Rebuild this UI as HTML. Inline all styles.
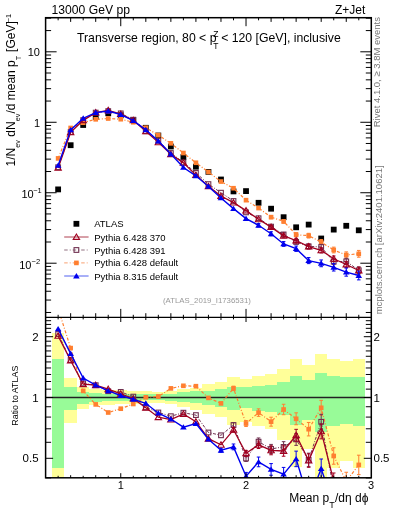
<!DOCTYPE html><html><head><meta charset="utf-8"><style>html,body{margin:0;padding:0;background:#fff;overflow:hidden}svg{display:block;will-change:transform}text{font-family:"Liberation Sans",sans-serif}</style></head><body>
<svg width="393" height="512" viewBox="0 0 393 512">
<rect width="393" height="512" fill="#fff"/>
<defs><clipPath id="ct"><rect x="45.6" y="17.7" width="325.7" height="299.7"/></clipPath><clipPath id="cr"><rect x="45.6" y="317.4" width="325.7" height="160.40000000000003"/></clipPath></defs>
<g clip-path="url(#cr)" shape-rendering="crispEdges">
<rect x="51.86" y="333.00" width="12.53" height="147.00" fill="#ffff99"/>
<rect x="51.86" y="359.00" width="12.53" height="108.80" fill="#98fb98"/>
<rect x="64.39" y="378.10" width="12.53" height="44.60" fill="#ffff99"/>
<rect x="64.39" y="387.30" width="12.53" height="22.50" fill="#98fb98"/>
<rect x="76.92" y="387.30" width="12.53" height="21.80" fill="#ffff99"/>
<rect x="76.92" y="392.30" width="12.53" height="11.40" fill="#98fb98"/>
<rect x="89.44" y="388.90" width="12.53" height="16.10" fill="#ffff99"/>
<rect x="89.44" y="392.90" width="12.53" height="9.20" fill="#98fb98"/>
<rect x="101.97" y="390.00" width="12.53" height="14.50" fill="#ffff99"/>
<rect x="101.97" y="393.50" width="12.53" height="7.50" fill="#98fb98"/>
<rect x="114.50" y="390.30" width="12.53" height="13.50" fill="#ffff99"/>
<rect x="114.50" y="393.60" width="12.53" height="7.00" fill="#98fb98"/>
<rect x="127.03" y="390.60" width="12.53" height="13.00" fill="#ffff99"/>
<rect x="127.03" y="393.80" width="12.53" height="6.70" fill="#98fb98"/>
<rect x="139.55" y="391.00" width="12.53" height="12.30" fill="#ffff99"/>
<rect x="139.55" y="394.00" width="12.53" height="6.30" fill="#98fb98"/>
<rect x="152.08" y="391.50" width="12.53" height="11.50" fill="#ffff99"/>
<rect x="152.08" y="394.10" width="12.53" height="6.00" fill="#98fb98"/>
<rect x="164.61" y="391.40" width="12.53" height="12.90" fill="#ffff99"/>
<rect x="164.61" y="393.60" width="12.53" height="7.30" fill="#98fb98"/>
<rect x="177.13" y="389.20" width="12.53" height="17.30" fill="#ffff99"/>
<rect x="177.13" y="392.10" width="12.53" height="9.50" fill="#98fb98"/>
<rect x="189.66" y="387.70" width="12.53" height="22.30" fill="#ffff99"/>
<rect x="189.66" y="391.40" width="12.53" height="11.40" fill="#98fb98"/>
<rect x="202.19" y="384.10" width="12.53" height="29.50" fill="#ffff99"/>
<rect x="202.19" y="390.50" width="12.53" height="14.50" fill="#98fb98"/>
<rect x="214.71" y="381.80" width="12.53" height="35.40" fill="#ffff99"/>
<rect x="214.71" y="389.20" width="12.53" height="17.40" fill="#98fb98"/>
<rect x="227.24" y="377.40" width="12.53" height="47.40" fill="#ffff99"/>
<rect x="227.24" y="386.70" width="12.53" height="22.80" fill="#98fb98"/>
<rect x="239.77" y="379.40" width="12.53" height="42.40" fill="#ffff99"/>
<rect x="239.77" y="387.00" width="12.53" height="20.80" fill="#98fb98"/>
<rect x="252.29" y="376.10" width="12.53" height="49.80" fill="#ffff99"/>
<rect x="252.29" y="386.00" width="12.53" height="24.60" fill="#98fb98"/>
<rect x="264.82" y="374.30" width="12.53" height="55.10" fill="#ffff99"/>
<rect x="264.82" y="385.30" width="12.53" height="26.80" fill="#98fb98"/>
<rect x="277.35" y="369.30" width="12.53" height="70.30" fill="#ffff99"/>
<rect x="277.35" y="381.90" width="12.53" height="33.30" fill="#98fb98"/>
<rect x="289.88" y="359.10" width="12.53" height="108.30" fill="#ffff99"/>
<rect x="289.88" y="376.30" width="12.53" height="48.60" fill="#98fb98"/>
<rect x="302.40" y="364.90" width="12.53" height="84.00" fill="#ffff99"/>
<rect x="302.40" y="379.90" width="12.53" height="39.70" fill="#98fb98"/>
<rect x="314.93" y="353.90" width="12.53" height="126.10" fill="#ffff99"/>
<rect x="314.93" y="373.10" width="12.53" height="59.00" fill="#98fb98"/>
<rect x="327.46" y="359.10" width="12.53" height="108.90" fill="#ffff99"/>
<rect x="327.46" y="376.20" width="12.53" height="49.30" fill="#98fb98"/>
<rect x="339.98" y="360.90" width="12.53" height="100.50" fill="#ffff99"/>
<rect x="339.98" y="376.80" width="12.53" height="47.50" fill="#98fb98"/>
<rect x="352.51" y="358.50" width="12.53" height="109.70" fill="#ffff99"/>
<rect x="352.51" y="376.80" width="12.53" height="49.10" fill="#98fb98"/>
</g>
<line x1="45.6" y1="397.5" x2="371.3" y2="397.5" stroke="#222" stroke-width="1.3"/>
<g clip-path="url(#ct)">
</g>
<g clip-path="url(#ct)">
<rect x="55.23" y="186.50" width="5.80" height="5.80" fill="#000"/>
<rect x="67.75" y="142.30" width="5.80" height="5.80" fill="#000"/>
<rect x="80.28" y="122.10" width="5.80" height="5.80" fill="#000"/>
<rect x="92.81" y="114.00" width="5.80" height="5.80" fill="#000"/>
<rect x="105.33" y="110.40" width="5.80" height="5.80" fill="#000"/>
<rect x="117.86" y="112.40" width="5.80" height="5.80" fill="#000"/>
<rect x="130.39" y="117.10" width="5.80" height="5.80" fill="#000"/>
<rect x="142.92" y="124.90" width="5.80" height="5.80" fill="#000"/>
<rect x="155.44" y="132.60" width="5.80" height="5.80" fill="#000"/>
<rect x="167.97" y="143.60" width="5.80" height="5.80" fill="#000"/>
<rect x="180.50" y="154.20" width="5.80" height="5.80" fill="#000"/>
<rect x="193.02" y="163.80" width="5.80" height="5.80" fill="#000"/>
<rect x="205.55" y="169.00" width="5.80" height="5.80" fill="#000"/>
<rect x="218.08" y="176.60" width="5.80" height="5.80" fill="#000"/>
<rect x="230.60" y="188.50" width="5.80" height="5.80" fill="#000"/>
<rect x="243.13" y="188.20" width="5.80" height="5.80" fill="#000"/>
<rect x="255.66" y="199.90" width="5.80" height="5.80" fill="#000"/>
<rect x="268.18" y="205.80" width="5.80" height="5.80" fill="#000"/>
<rect x="280.71" y="214.30" width="5.80" height="5.80" fill="#000"/>
<rect x="293.24" y="224.40" width="5.80" height="5.80" fill="#000"/>
<rect x="305.77" y="221.70" width="5.80" height="5.80" fill="#000"/>
<rect x="318.29" y="235.60" width="5.80" height="5.80" fill="#000"/>
<rect x="330.82" y="226.70" width="5.80" height="5.80" fill="#000"/>
<rect x="343.35" y="222.90" width="5.80" height="5.80" fill="#000"/>
<rect x="355.87" y="227.40" width="5.80" height="5.80" fill="#000"/>
</g>
<g clip-path="url(#ct)">
<polyline points="58.13,158.40 70.65,127.97 83.18,122.70 95.71,119.31 108.23,118.53 120.76,119.21 133.29,122.27 145.82,127.73 158.34,135.15 170.87,143.33 183.40,153.02 195.92,162.76 208.45,172.04 220.98,181.56 233.50,188.23 246.03,200.17 258.56,208.07 271.08,217.14 283.61,221.39 296.14,234.73 308.67,235.66 321.19,242.09 333.72,250.01 346.25,255.00 358.77,253.81" fill="none" stroke="#ff7f30" stroke-width="1.2" stroke-dasharray="3,1.8,1,1.8"/>
<rect x="55.81" y="156.08" width="4.64" height="4.64" fill="#ff7f30"/>
<rect x="68.33" y="125.65" width="4.64" height="4.64" fill="#ff7f30"/>
<rect x="80.86" y="120.38" width="4.64" height="4.64" fill="#ff7f30"/>
<rect x="93.39" y="116.99" width="4.64" height="4.64" fill="#ff7f30"/>
<rect x="105.91" y="116.21" width="4.64" height="4.64" fill="#ff7f30"/>
<rect x="118.44" y="116.89" width="4.64" height="4.64" fill="#ff7f30"/>
<rect x="130.97" y="119.95" width="4.64" height="4.64" fill="#ff7f30"/>
<rect x="143.50" y="125.41" width="4.64" height="4.64" fill="#ff7f30"/>
<rect x="156.02" y="132.83" width="4.64" height="4.64" fill="#ff7f30"/>
<rect x="168.55" y="141.01" width="4.64" height="4.64" fill="#ff7f30"/>
<rect x="181.08" y="150.70" width="4.64" height="4.64" fill="#ff7f30"/>
<rect x="193.60" y="160.44" width="4.64" height="4.64" fill="#ff7f30"/>
<rect x="206.13" y="169.72" width="4.64" height="4.64" fill="#ff7f30"/>
<rect x="218.66" y="179.24" width="4.64" height="4.64" fill="#ff7f30"/>
<rect x="231.18" y="185.91" width="4.64" height="4.64" fill="#ff7f30"/>
<rect x="243.71" y="197.85" width="4.64" height="4.64" fill="#ff7f30"/>
<rect x="256.24" y="205.75" width="4.64" height="4.64" fill="#ff7f30"/>
<path d="M271.08,215.58V218.70M269.28,215.58H272.88M269.28,218.70H272.88" stroke="#ff7f30" stroke-width="1" fill="none"/>
<rect x="268.76" y="214.82" width="4.64" height="4.64" fill="#ff7f30"/>
<path d="M283.61,219.57V223.21M281.81,219.57H285.41M281.81,223.21H285.41" stroke="#ff7f30" stroke-width="1" fill="none"/>
<rect x="281.29" y="219.07" width="4.64" height="4.64" fill="#ff7f30"/>
<path d="M296.14,232.65V236.81M294.34,232.65H297.94M294.34,236.81H297.94" stroke="#ff7f30" stroke-width="1" fill="none"/>
<rect x="293.82" y="232.41" width="4.64" height="4.64" fill="#ff7f30"/>
<path d="M308.67,233.32V238.00M306.87,233.32H310.47M306.87,238.00H310.47" stroke="#ff7f30" stroke-width="1" fill="none"/>
<rect x="306.35" y="233.34" width="4.64" height="4.64" fill="#ff7f30"/>
<path d="M321.19,239.49V244.69M319.39,239.49H322.99M319.39,244.69H322.99" stroke="#ff7f30" stroke-width="1" fill="none"/>
<rect x="318.87" y="239.77" width="4.64" height="4.64" fill="#ff7f30"/>
<path d="M333.72,247.15V252.87M331.92,247.15H335.52M331.92,252.87H335.52" stroke="#ff7f30" stroke-width="1" fill="none"/>
<rect x="331.40" y="247.69" width="4.64" height="4.64" fill="#ff7f30"/>
<path d="M346.25,251.88V258.12M344.45,251.88H348.05M344.45,258.12H348.05" stroke="#ff7f30" stroke-width="1" fill="none"/>
<rect x="343.93" y="252.68" width="4.64" height="4.64" fill="#ff7f30"/>
<path d="M358.77,250.43V257.19M356.97,250.43H360.57M356.97,257.19H360.57" stroke="#ff7f30" stroke-width="1" fill="none"/>
<rect x="356.45" y="251.49" width="4.64" height="4.64" fill="#ff7f30"/>
<polyline points="58.13,167.25 70.65,132.12 83.18,120.12 95.71,112.61 108.23,111.10 120.76,113.35 133.29,119.69 145.82,131.25 158.34,140.73 170.87,153.02 183.40,162.40 195.92,172.84 208.45,184.11 220.98,192.69 233.50,200.99 246.03,212.38 258.56,218.22 271.08,226.63 283.61,234.43 296.14,241.92 308.67,246.37 321.19,246.98 333.72,261.70 346.25,261.40 358.77,270.30" fill="none" stroke="#703050" stroke-width="1.0" stroke-dasharray="3,1.5,1,1.5"/>
<rect x="55.78" y="164.90" width="4.70" height="4.70" fill="none" stroke="#703050" stroke-width="1.1"/>
<rect x="68.30" y="129.77" width="4.70" height="4.70" fill="none" stroke="#703050" stroke-width="1.1"/>
<rect x="80.83" y="117.77" width="4.70" height="4.70" fill="none" stroke="#703050" stroke-width="1.1"/>
<rect x="93.36" y="110.26" width="4.70" height="4.70" fill="none" stroke="#703050" stroke-width="1.1"/>
<rect x="105.88" y="108.75" width="4.70" height="4.70" fill="none" stroke="#703050" stroke-width="1.1"/>
<rect x="118.41" y="111.00" width="4.70" height="4.70" fill="none" stroke="#703050" stroke-width="1.1"/>
<rect x="130.94" y="117.34" width="4.70" height="4.70" fill="none" stroke="#703050" stroke-width="1.1"/>
<rect x="143.47" y="128.90" width="4.70" height="4.70" fill="none" stroke="#703050" stroke-width="1.1"/>
<rect x="155.99" y="138.38" width="4.70" height="4.70" fill="none" stroke="#703050" stroke-width="1.1"/>
<rect x="168.52" y="150.67" width="4.70" height="4.70" fill="none" stroke="#703050" stroke-width="1.1"/>
<rect x="181.05" y="160.05" width="4.70" height="4.70" fill="none" stroke="#703050" stroke-width="1.1"/>
<rect x="193.57" y="170.49" width="4.70" height="4.70" fill="none" stroke="#703050" stroke-width="1.1"/>
<rect x="206.10" y="181.76" width="4.70" height="4.70" fill="none" stroke="#703050" stroke-width="1.1"/>
<rect x="218.63" y="190.34" width="4.70" height="4.70" fill="none" stroke="#703050" stroke-width="1.1"/>
<rect x="231.15" y="198.64" width="4.70" height="4.70" fill="none" stroke="#703050" stroke-width="1.1"/>
<rect x="243.68" y="210.03" width="4.70" height="4.70" fill="none" stroke="#703050" stroke-width="1.1"/>
<rect x="256.21" y="215.87" width="4.70" height="4.70" fill="none" stroke="#703050" stroke-width="1.1"/>
<path d="M271.08,225.07V228.19M269.28,225.07H272.88M269.28,228.19H272.88" stroke="#703050" stroke-width="1" fill="none"/>
<rect x="268.73" y="224.28" width="4.70" height="4.70" fill="none" stroke="#703050" stroke-width="1.1"/>
<path d="M283.61,232.61V236.25M281.81,232.61H285.41M281.81,236.25H285.41" stroke="#703050" stroke-width="1" fill="none"/>
<rect x="281.26" y="232.08" width="4.70" height="4.70" fill="none" stroke="#703050" stroke-width="1.1"/>
<path d="M296.14,239.84V244.00M294.34,239.84H297.94M294.34,244.00H297.94" stroke="#703050" stroke-width="1" fill="none"/>
<rect x="293.79" y="239.57" width="4.70" height="4.70" fill="none" stroke="#703050" stroke-width="1.1"/>
<path d="M308.67,244.03V248.71M306.87,244.03H310.47M306.87,248.71H310.47" stroke="#703050" stroke-width="1" fill="none"/>
<rect x="306.32" y="244.02" width="4.70" height="4.70" fill="none" stroke="#703050" stroke-width="1.1"/>
<path d="M321.19,244.38V249.58M319.39,244.38H322.99M319.39,249.58H322.99" stroke="#703050" stroke-width="1" fill="none"/>
<rect x="318.84" y="244.63" width="4.70" height="4.70" fill="none" stroke="#703050" stroke-width="1.1"/>
<path d="M333.72,258.84V264.56M331.92,258.84H335.52M331.92,264.56H335.52" stroke="#703050" stroke-width="1" fill="none"/>
<rect x="331.37" y="259.35" width="4.70" height="4.70" fill="none" stroke="#703050" stroke-width="1.1"/>
<path d="M346.25,258.28V264.52M344.45,258.28H348.05M344.45,264.52H348.05" stroke="#703050" stroke-width="1" fill="none"/>
<rect x="343.90" y="259.05" width="4.70" height="4.70" fill="none" stroke="#703050" stroke-width="1.1"/>
<path d="M358.77,266.92V273.68M356.97,266.92H360.57M356.97,273.68H360.57" stroke="#703050" stroke-width="1" fill="none"/>
<rect x="356.42" y="267.95" width="4.70" height="4.70" fill="none" stroke="#703050" stroke-width="1.1"/>
<polyline points="58.13,167.91 70.65,132.29 83.18,120.36 95.71,112.61 108.23,110.40 120.76,114.04 133.29,120.38 145.82,131.36 158.34,142.37 170.87,154.21 183.40,162.86 195.92,175.14 208.45,186.27 220.98,196.00 233.50,202.67 246.03,210.60 258.56,219.30 271.08,227.12 283.61,235.86 296.14,240.49 308.67,246.61 321.19,250.33 333.72,258.80 346.25,264.50 358.77,270.50" fill="none" stroke="#a00020" stroke-width="1.3" />
<path d="M58.13,164.91L61.33,170.31L54.93,170.31Z" fill="none" stroke="#a00020" stroke-width="1.1"/>
<path d="M70.65,129.29L73.85,134.69L67.45,134.69Z" fill="none" stroke="#a00020" stroke-width="1.1"/>
<path d="M83.18,117.36L86.38,122.76L79.98,122.76Z" fill="none" stroke="#a00020" stroke-width="1.1"/>
<path d="M95.71,109.61L98.91,115.01L92.51,115.01Z" fill="none" stroke="#a00020" stroke-width="1.1"/>
<path d="M108.23,107.40L111.43,112.80L105.03,112.80Z" fill="none" stroke="#a00020" stroke-width="1.1"/>
<path d="M120.76,111.04L123.96,116.44L117.56,116.44Z" fill="none" stroke="#a00020" stroke-width="1.1"/>
<path d="M133.29,117.38L136.49,122.78L130.09,122.78Z" fill="none" stroke="#a00020" stroke-width="1.1"/>
<path d="M145.82,128.36L149.02,133.76L142.62,133.76Z" fill="none" stroke="#a00020" stroke-width="1.1"/>
<path d="M158.34,139.37L161.54,144.77L155.14,144.77Z" fill="none" stroke="#a00020" stroke-width="1.1"/>
<path d="M170.87,151.21L174.07,156.61L167.67,156.61Z" fill="none" stroke="#a00020" stroke-width="1.1"/>
<path d="M183.40,159.86L186.60,165.26L180.20,165.26Z" fill="none" stroke="#a00020" stroke-width="1.1"/>
<path d="M195.92,172.14L199.12,177.54L192.72,177.54Z" fill="none" stroke="#a00020" stroke-width="1.1"/>
<path d="M208.45,183.27L211.65,188.67L205.25,188.67Z" fill="none" stroke="#a00020" stroke-width="1.1"/>
<path d="M220.98,193.00L224.18,198.40L217.78,198.40Z" fill="none" stroke="#a00020" stroke-width="1.1"/>
<path d="M233.50,199.67L236.70,205.07L230.30,205.07Z" fill="none" stroke="#a00020" stroke-width="1.1"/>
<path d="M246.03,207.60L249.23,213.00L242.83,213.00Z" fill="none" stroke="#a00020" stroke-width="1.1"/>
<path d="M258.56,216.30L261.76,221.70L255.36,221.70Z" fill="none" stroke="#a00020" stroke-width="1.1"/>
<path d="M271.08,225.56V228.68M269.28,225.56H272.88M269.28,228.68H272.88" stroke="#a00020" stroke-width="1" fill="none"/>
<path d="M271.08,224.12L274.28,229.52L267.88,229.52Z" fill="none" stroke="#a00020" stroke-width="1.1"/>
<path d="M283.61,234.04V237.68M281.81,234.04H285.41M281.81,237.68H285.41" stroke="#a00020" stroke-width="1" fill="none"/>
<path d="M283.61,232.86L286.81,238.26L280.41,238.26Z" fill="none" stroke="#a00020" stroke-width="1.1"/>
<path d="M296.14,238.41V242.57M294.34,238.41H297.94M294.34,242.57H297.94" stroke="#a00020" stroke-width="1" fill="none"/>
<path d="M296.14,237.49L299.34,242.89L292.94,242.89Z" fill="none" stroke="#a00020" stroke-width="1.1"/>
<path d="M308.67,244.27V248.95M306.87,244.27H310.47M306.87,248.95H310.47" stroke="#a00020" stroke-width="1" fill="none"/>
<path d="M308.67,243.61L311.87,249.01L305.47,249.01Z" fill="none" stroke="#a00020" stroke-width="1.1"/>
<path d="M321.19,247.73V252.93M319.39,247.73H322.99M319.39,252.93H322.99" stroke="#a00020" stroke-width="1" fill="none"/>
<path d="M321.19,247.33L324.39,252.73L317.99,252.73Z" fill="none" stroke="#a00020" stroke-width="1.1"/>
<path d="M333.72,255.94V261.66M331.92,255.94H335.52M331.92,261.66H335.52" stroke="#a00020" stroke-width="1" fill="none"/>
<path d="M333.72,255.80L336.92,261.20L330.52,261.20Z" fill="none" stroke="#a00020" stroke-width="1.1"/>
<path d="M346.25,261.38V267.62M344.45,261.38H348.05M344.45,267.62H348.05" stroke="#a00020" stroke-width="1" fill="none"/>
<path d="M346.25,261.50L349.45,266.90L343.05,266.90Z" fill="none" stroke="#a00020" stroke-width="1.1"/>
<path d="M358.77,267.12V273.88M356.97,267.12H360.57M356.97,273.88H360.57" stroke="#a00020" stroke-width="1" fill="none"/>
<path d="M358.77,267.50L361.97,272.90L355.57,272.90Z" fill="none" stroke="#a00020" stroke-width="1.1"/>
<polyline points="58.13,165.47 70.65,129.88 83.18,118.23 95.71,112.57 108.23,111.00 120.76,114.60 133.29,120.63 145.82,129.82 158.34,140.98 170.87,154.00 183.40,167.46 195.92,175.81 208.45,186.45 220.98,197.92 233.50,208.63 246.03,218.59 258.56,225.27 271.08,233.78 283.61,243.96 296.14,248.72 308.67,260.60 321.19,263.34 333.72,267.30 346.25,272.10 358.77,275.50" fill="none" stroke="#0000ee" stroke-width="1.4" />
<path d="M58.13,162.47L61.43,167.87L54.83,167.87Z" fill="#0000ee"/>
<path d="M70.65,126.88L73.95,132.28L67.35,132.28Z" fill="#0000ee"/>
<path d="M83.18,115.23L86.48,120.63L79.88,120.63Z" fill="#0000ee"/>
<path d="M95.71,109.57L99.01,114.97L92.41,114.97Z" fill="#0000ee"/>
<path d="M108.23,108.00L111.53,113.40L104.93,113.40Z" fill="#0000ee"/>
<path d="M120.76,111.60L124.06,117.00L117.46,117.00Z" fill="#0000ee"/>
<path d="M133.29,117.63L136.59,123.03L129.99,123.03Z" fill="#0000ee"/>
<path d="M145.82,126.82L149.12,132.22L142.52,132.22Z" fill="#0000ee"/>
<path d="M158.34,137.98L161.64,143.38L155.04,143.38Z" fill="#0000ee"/>
<path d="M170.87,151.00L174.17,156.40L167.57,156.40Z" fill="#0000ee"/>
<path d="M183.40,164.46L186.70,169.86L180.10,169.86Z" fill="#0000ee"/>
<path d="M195.92,172.81L199.22,178.21L192.62,178.21Z" fill="#0000ee"/>
<path d="M208.45,183.45L211.75,188.85L205.15,188.85Z" fill="#0000ee"/>
<path d="M220.98,194.92L224.28,200.32L217.68,200.32Z" fill="#0000ee"/>
<path d="M233.50,205.63L236.80,211.03L230.20,211.03Z" fill="#0000ee"/>
<path d="M246.03,215.59L249.33,220.99L242.73,220.99Z" fill="#0000ee"/>
<path d="M258.56,223.58V226.96M256.76,223.58H260.36M256.76,226.96H260.36" stroke="#0000ee" stroke-width="1" fill="none"/>
<path d="M258.56,222.27L261.86,227.67L255.26,227.67Z" fill="#0000ee"/>
<path d="M271.08,231.76V235.81M269.28,231.76H272.88M269.28,235.81H272.88" stroke="#0000ee" stroke-width="1" fill="none"/>
<path d="M271.08,230.78L274.38,236.18L267.78,236.18Z" fill="#0000ee"/>
<path d="M283.61,241.59V246.32M281.81,241.59H285.41M281.81,246.32H285.41" stroke="#0000ee" stroke-width="1" fill="none"/>
<path d="M283.61,240.96L286.91,246.36L280.31,246.36Z" fill="#0000ee"/>
<path d="M296.14,246.02V251.42M294.34,246.02H297.94M294.34,251.42H297.94" stroke="#0000ee" stroke-width="1" fill="none"/>
<path d="M296.14,245.72L299.44,251.12L292.84,251.12Z" fill="#0000ee"/>
<path d="M308.67,257.56V263.64M306.87,257.56H310.47M306.87,263.64H310.47" stroke="#0000ee" stroke-width="1" fill="none"/>
<path d="M308.67,257.60L311.97,263.00L305.37,263.00Z" fill="#0000ee"/>
<path d="M321.19,259.96V266.72M319.39,259.96H322.99M319.39,266.72H322.99" stroke="#0000ee" stroke-width="1" fill="none"/>
<path d="M321.19,260.34L324.49,265.74L317.89,265.74Z" fill="#0000ee"/>
<path d="M333.72,263.58V271.02M331.92,263.58H335.52M331.92,271.02H335.52" stroke="#0000ee" stroke-width="1" fill="none"/>
<path d="M333.72,264.30L337.02,269.70L330.42,269.70Z" fill="#0000ee"/>
<path d="M346.25,268.04V276.16M344.45,268.04H348.05M344.45,276.16H348.05" stroke="#0000ee" stroke-width="1" fill="none"/>
<path d="M346.25,269.10L349.55,274.50L342.95,274.50Z" fill="#0000ee"/>
<path d="M358.77,271.11V279.89M356.97,271.11H360.57M356.97,279.89H360.57" stroke="#0000ee" stroke-width="1" fill="none"/>
<path d="M358.77,272.50L362.07,277.90L355.47,277.90Z" fill="#0000ee"/>
</g>
<g clip-path="url(#cr)">
<polyline points="58.13,308.64 70.65,348.10 83.18,390.90 95.71,404.40 108.23,412.50 120.76,408.70 133.29,404.00 145.82,397.30 158.34,396.50 170.87,388.40 183.40,385.80 195.92,386.20 208.45,397.90 220.98,403.40 233.50,388.40 246.03,423.50 258.56,412.60 271.08,421.70 283.61,409.50 296.14,418.80 308.67,429.20 321.19,407.80 333.72,456.00 346.25,481.20 358.77,464.90" fill="none" stroke="#ff7f30" stroke-width="1.2" stroke-dasharray="3,1.8,1,1.8"/>
<rect x="55.81" y="306.32" width="4.64" height="4.64" fill="#ff7f30"/>
<rect x="68.33" y="345.78" width="4.64" height="4.64" fill="#ff7f30"/>
<rect x="80.86" y="388.58" width="4.64" height="4.64" fill="#ff7f30"/>
<rect x="93.39" y="402.08" width="4.64" height="4.64" fill="#ff7f30"/>
<rect x="105.91" y="410.18" width="4.64" height="4.64" fill="#ff7f30"/>
<rect x="118.44" y="406.38" width="4.64" height="4.64" fill="#ff7f30"/>
<rect x="130.97" y="401.68" width="4.64" height="4.64" fill="#ff7f30"/>
<rect x="143.50" y="394.98" width="4.64" height="4.64" fill="#ff7f30"/>
<rect x="156.02" y="394.18" width="4.64" height="4.64" fill="#ff7f30"/>
<rect x="168.55" y="386.08" width="4.64" height="4.64" fill="#ff7f30"/>
<rect x="181.08" y="383.48" width="4.64" height="4.64" fill="#ff7f30"/>
<rect x="193.60" y="383.88" width="4.64" height="4.64" fill="#ff7f30"/>
<rect x="206.13" y="395.58" width="4.64" height="4.64" fill="#ff7f30"/>
<rect x="218.66" y="401.08" width="4.64" height="4.64" fill="#ff7f30"/>
<path d="M233.50,386.16V390.64M231.70,386.16H235.30M231.70,390.64H235.30" stroke="#ff7f30" stroke-width="1" fill="none"/>
<rect x="231.18" y="386.08" width="4.64" height="4.64" fill="#ff7f30"/>
<path d="M246.03,420.52V426.48M244.23,420.52H247.83M244.23,426.48H247.83" stroke="#ff7f30" stroke-width="1" fill="none"/>
<rect x="243.71" y="421.18" width="4.64" height="4.64" fill="#ff7f30"/>
<path d="M258.56,408.87V416.33M256.76,408.87H260.36M256.76,416.33H260.36" stroke="#ff7f30" stroke-width="1" fill="none"/>
<rect x="256.24" y="410.28" width="4.64" height="4.64" fill="#ff7f30"/>
<path d="M271.08,417.22V426.18M269.28,417.22H272.88M269.28,426.18H272.88" stroke="#ff7f30" stroke-width="1" fill="none"/>
<rect x="268.76" y="419.38" width="4.64" height="4.64" fill="#ff7f30"/>
<path d="M283.61,404.28V414.72M281.81,404.28H285.41M281.81,414.72H285.41" stroke="#ff7f30" stroke-width="1" fill="none"/>
<rect x="281.29" y="407.18" width="4.64" height="4.64" fill="#ff7f30"/>
<path d="M296.14,412.83V424.77M294.34,412.83H297.94M294.34,424.77H297.94" stroke="#ff7f30" stroke-width="1" fill="none"/>
<rect x="293.82" y="416.48" width="4.64" height="4.64" fill="#ff7f30"/>
<path d="M308.67,422.48V435.92M306.87,422.48H310.47M306.87,435.92H310.47" stroke="#ff7f30" stroke-width="1" fill="none"/>
<rect x="306.35" y="426.88" width="4.64" height="4.64" fill="#ff7f30"/>
<path d="M321.19,400.34V415.26M319.39,400.34H322.99M319.39,415.26H322.99" stroke="#ff7f30" stroke-width="1" fill="none"/>
<rect x="318.87" y="405.48" width="4.64" height="4.64" fill="#ff7f30"/>
<path d="M333.72,447.79V464.21M331.92,447.79H335.52M331.92,464.21H335.52" stroke="#ff7f30" stroke-width="1" fill="none"/>
<rect x="331.40" y="453.68" width="4.64" height="4.64" fill="#ff7f30"/>
<path d="M346.25,472.25V490.16M344.45,472.25H348.05M344.45,490.16H348.05" stroke="#ff7f30" stroke-width="1" fill="none"/>
<rect x="343.93" y="478.88" width="4.64" height="4.64" fill="#ff7f30"/>
<path d="M358.77,455.20V474.60M356.97,455.20H360.57M356.97,474.60H360.57" stroke="#ff7f30" stroke-width="1" fill="none"/>
<rect x="356.45" y="462.58" width="4.64" height="4.64" fill="#ff7f30"/>
<polyline points="58.13,334.00 70.65,360.00 83.18,383.50 95.71,385.20 108.23,391.20 120.76,391.90 133.29,396.60 145.82,407.40 158.34,412.50 170.87,416.20 183.40,412.70 195.92,415.10 208.45,432.50 220.98,435.30 233.50,425.00 246.03,458.50 258.56,441.70 271.08,448.90 283.61,446.90 296.14,439.40 308.67,459.90 321.19,421.80 333.72,489.51 346.25,499.55 358.77,512.16" fill="none" stroke="#703050" stroke-width="1.0" stroke-dasharray="3,1.5,1,1.5"/>
<rect x="55.78" y="331.65" width="4.70" height="4.70" fill="none" stroke="#703050" stroke-width="1.1"/>
<rect x="68.30" y="357.65" width="4.70" height="4.70" fill="none" stroke="#703050" stroke-width="1.1"/>
<rect x="80.83" y="381.15" width="4.70" height="4.70" fill="none" stroke="#703050" stroke-width="1.1"/>
<rect x="93.36" y="382.85" width="4.70" height="4.70" fill="none" stroke="#703050" stroke-width="1.1"/>
<rect x="105.88" y="388.85" width="4.70" height="4.70" fill="none" stroke="#703050" stroke-width="1.1"/>
<rect x="118.41" y="389.55" width="4.70" height="4.70" fill="none" stroke="#703050" stroke-width="1.1"/>
<rect x="130.94" y="394.25" width="4.70" height="4.70" fill="none" stroke="#703050" stroke-width="1.1"/>
<rect x="143.47" y="405.05" width="4.70" height="4.70" fill="none" stroke="#703050" stroke-width="1.1"/>
<rect x="155.99" y="410.15" width="4.70" height="4.70" fill="none" stroke="#703050" stroke-width="1.1"/>
<rect x="168.52" y="413.85" width="4.70" height="4.70" fill="none" stroke="#703050" stroke-width="1.1"/>
<rect x="181.05" y="410.35" width="4.70" height="4.70" fill="none" stroke="#703050" stroke-width="1.1"/>
<rect x="193.57" y="412.75" width="4.70" height="4.70" fill="none" stroke="#703050" stroke-width="1.1"/>
<rect x="206.10" y="430.15" width="4.70" height="4.70" fill="none" stroke="#703050" stroke-width="1.1"/>
<rect x="218.63" y="432.95" width="4.70" height="4.70" fill="none" stroke="#703050" stroke-width="1.1"/>
<path d="M233.50,422.76V427.24M231.70,422.76H235.30M231.70,427.24H235.30" stroke="#703050" stroke-width="1" fill="none"/>
<rect x="231.15" y="422.65" width="4.70" height="4.70" fill="none" stroke="#703050" stroke-width="1.1"/>
<path d="M246.03,455.52V461.48M244.23,455.52H247.83M244.23,461.48H247.83" stroke="#703050" stroke-width="1" fill="none"/>
<rect x="243.68" y="456.15" width="4.70" height="4.70" fill="none" stroke="#703050" stroke-width="1.1"/>
<path d="M258.56,437.97V445.43M256.76,437.97H260.36M256.76,445.43H260.36" stroke="#703050" stroke-width="1" fill="none"/>
<rect x="256.21" y="439.35" width="4.70" height="4.70" fill="none" stroke="#703050" stroke-width="1.1"/>
<path d="M271.08,444.42V453.38M269.28,444.42H272.88M269.28,453.38H272.88" stroke="#703050" stroke-width="1" fill="none"/>
<rect x="268.73" y="446.55" width="4.70" height="4.70" fill="none" stroke="#703050" stroke-width="1.1"/>
<path d="M283.61,441.68V452.12M281.81,441.68H285.41M281.81,452.12H285.41" stroke="#703050" stroke-width="1" fill="none"/>
<rect x="281.26" y="444.55" width="4.70" height="4.70" fill="none" stroke="#703050" stroke-width="1.1"/>
<path d="M296.14,433.43V445.37M294.34,433.43H297.94M294.34,445.37H297.94" stroke="#703050" stroke-width="1" fill="none"/>
<rect x="293.79" y="437.05" width="4.70" height="4.70" fill="none" stroke="#703050" stroke-width="1.1"/>
<path d="M308.67,453.18V466.62M306.87,453.18H310.47M306.87,466.62H310.47" stroke="#703050" stroke-width="1" fill="none"/>
<rect x="306.32" y="457.55" width="4.70" height="4.70" fill="none" stroke="#703050" stroke-width="1.1"/>
<path d="M321.19,414.34V429.26M319.39,414.34H322.99M319.39,429.26H322.99" stroke="#703050" stroke-width="1" fill="none"/>
<rect x="318.84" y="419.45" width="4.70" height="4.70" fill="none" stroke="#703050" stroke-width="1.1"/>
<path d="M333.72,481.31V497.72M331.92,481.31H335.52M331.92,497.72H335.52" stroke="#703050" stroke-width="1" fill="none"/>
<rect x="331.37" y="487.16" width="4.70" height="4.70" fill="none" stroke="#703050" stroke-width="1.1"/>
<path d="M346.25,490.59V508.50M344.45,490.59H348.05M344.45,508.50H348.05" stroke="#703050" stroke-width="1" fill="none"/>
<rect x="343.90" y="497.20" width="4.70" height="4.70" fill="none" stroke="#703050" stroke-width="1.1"/>
<path d="M358.77,502.46V521.86M356.97,502.46H360.57M356.97,521.86H360.57" stroke="#703050" stroke-width="1" fill="none"/>
<rect x="356.42" y="509.81" width="4.70" height="4.70" fill="none" stroke="#703050" stroke-width="1.1"/>
<polyline points="58.13,335.90 70.65,360.50 83.18,384.20 95.71,385.20 108.23,389.20 120.76,393.90 133.29,398.60 145.82,407.70 158.34,417.20 170.87,419.60 183.40,414.00 195.92,421.70 208.45,438.70 220.98,444.80 233.50,429.80 246.03,453.40 258.56,444.80 271.08,450.30 283.61,451.00 296.14,435.30 308.67,460.60 321.19,431.40 333.72,481.20 346.25,508.43 358.77,512.73" fill="none" stroke="#a00020" stroke-width="1.3" />
<path d="M58.13,332.90L61.33,338.30L54.93,338.30Z" fill="none" stroke="#a00020" stroke-width="1.1"/>
<path d="M70.65,357.50L73.85,362.90L67.45,362.90Z" fill="none" stroke="#a00020" stroke-width="1.1"/>
<path d="M83.18,381.20L86.38,386.60L79.98,386.60Z" fill="none" stroke="#a00020" stroke-width="1.1"/>
<path d="M95.71,382.20L98.91,387.60L92.51,387.60Z" fill="none" stroke="#a00020" stroke-width="1.1"/>
<path d="M108.23,386.20L111.43,391.60L105.03,391.60Z" fill="none" stroke="#a00020" stroke-width="1.1"/>
<path d="M120.76,390.90L123.96,396.30L117.56,396.30Z" fill="none" stroke="#a00020" stroke-width="1.1"/>
<path d="M133.29,395.60L136.49,401.00L130.09,401.00Z" fill="none" stroke="#a00020" stroke-width="1.1"/>
<path d="M145.82,404.70L149.02,410.10L142.62,410.10Z" fill="none" stroke="#a00020" stroke-width="1.1"/>
<path d="M158.34,414.20L161.54,419.60L155.14,419.60Z" fill="none" stroke="#a00020" stroke-width="1.1"/>
<path d="M170.87,416.60L174.07,422.00L167.67,422.00Z" fill="none" stroke="#a00020" stroke-width="1.1"/>
<path d="M183.40,411.00L186.60,416.40L180.20,416.40Z" fill="none" stroke="#a00020" stroke-width="1.1"/>
<path d="M195.92,418.70L199.12,424.10L192.72,424.10Z" fill="none" stroke="#a00020" stroke-width="1.1"/>
<path d="M208.45,435.70L211.65,441.10L205.25,441.10Z" fill="none" stroke="#a00020" stroke-width="1.1"/>
<path d="M220.98,441.80L224.18,447.20L217.78,447.20Z" fill="none" stroke="#a00020" stroke-width="1.1"/>
<path d="M233.50,427.56V432.04M231.70,427.56H235.30M231.70,432.04H235.30" stroke="#a00020" stroke-width="1" fill="none"/>
<path d="M233.50,426.80L236.70,432.20L230.30,432.20Z" fill="none" stroke="#a00020" stroke-width="1.1"/>
<path d="M246.03,450.42V456.38M244.23,450.42H247.83M244.23,456.38H247.83" stroke="#a00020" stroke-width="1" fill="none"/>
<path d="M246.03,450.40L249.23,455.80L242.83,455.80Z" fill="none" stroke="#a00020" stroke-width="1.1"/>
<path d="M258.56,441.07V448.53M256.76,441.07H260.36M256.76,448.53H260.36" stroke="#a00020" stroke-width="1" fill="none"/>
<path d="M258.56,441.80L261.76,447.20L255.36,447.20Z" fill="none" stroke="#a00020" stroke-width="1.1"/>
<path d="M271.08,445.82V454.78M269.28,445.82H272.88M269.28,454.78H272.88" stroke="#a00020" stroke-width="1" fill="none"/>
<path d="M271.08,447.30L274.28,452.70L267.88,452.70Z" fill="none" stroke="#a00020" stroke-width="1.1"/>
<path d="M283.61,445.78V456.22M281.81,445.78H285.41M281.81,456.22H285.41" stroke="#a00020" stroke-width="1" fill="none"/>
<path d="M283.61,448.00L286.81,453.40L280.41,453.40Z" fill="none" stroke="#a00020" stroke-width="1.1"/>
<path d="M296.14,429.33V441.27M294.34,429.33H297.94M294.34,441.27H297.94" stroke="#a00020" stroke-width="1" fill="none"/>
<path d="M296.14,432.30L299.34,437.70L292.94,437.70Z" fill="none" stroke="#a00020" stroke-width="1.1"/>
<path d="M308.67,453.88V467.32M306.87,453.88H310.47M306.87,467.32H310.47" stroke="#a00020" stroke-width="1" fill="none"/>
<path d="M308.67,457.60L311.87,463.00L305.47,463.00Z" fill="none" stroke="#a00020" stroke-width="1.1"/>
<path d="M321.19,423.94V438.86M319.39,423.94H322.99M319.39,438.86H322.99" stroke="#a00020" stroke-width="1" fill="none"/>
<path d="M321.19,428.40L324.39,433.80L317.99,433.80Z" fill="none" stroke="#a00020" stroke-width="1.1"/>
<path d="M333.72,472.99V489.41M331.92,472.99H335.52M331.92,489.41H335.52" stroke="#a00020" stroke-width="1" fill="none"/>
<path d="M333.72,478.20L336.92,483.60L330.52,483.60Z" fill="none" stroke="#a00020" stroke-width="1.1"/>
<path d="M346.25,499.48V517.39M344.45,499.48H348.05M344.45,517.39H348.05" stroke="#a00020" stroke-width="1" fill="none"/>
<path d="M346.25,505.43L349.45,510.83L343.05,510.83Z" fill="none" stroke="#a00020" stroke-width="1.1"/>
<path d="M358.77,503.03V522.43M356.97,503.03H360.57M356.97,522.43H360.57" stroke="#a00020" stroke-width="1" fill="none"/>
<path d="M358.77,509.73L361.97,515.13L355.57,515.13Z" fill="none" stroke="#a00020" stroke-width="1.1"/>
<polyline points="58.13,328.90 70.65,353.60 83.18,378.10 95.71,385.10 108.23,390.90 120.76,395.50 133.29,399.30 145.82,403.30 158.34,413.20 170.87,419.00 183.40,427.20 195.92,423.60 208.45,439.20 220.98,450.30 233.50,446.90 246.03,476.30 258.56,461.90 271.08,469.40 283.61,474.20 296.14,458.90 308.67,500.69 321.19,468.70 333.72,505.57 346.25,530.22 358.77,527.06" fill="none" stroke="#0000ee" stroke-width="1.4" />
<path d="M58.13,325.90L61.43,331.30L54.83,331.30Z" fill="#0000ee"/>
<path d="M70.65,350.60L73.95,356.00L67.35,356.00Z" fill="#0000ee"/>
<path d="M83.18,375.10L86.48,380.50L79.88,380.50Z" fill="#0000ee"/>
<path d="M95.71,382.10L99.01,387.50L92.41,387.50Z" fill="#0000ee"/>
<path d="M108.23,387.90L111.53,393.30L104.93,393.30Z" fill="#0000ee"/>
<path d="M120.76,392.50L124.06,397.90L117.46,397.90Z" fill="#0000ee"/>
<path d="M133.29,396.30L136.59,401.70L129.99,401.70Z" fill="#0000ee"/>
<path d="M145.82,400.30L149.12,405.70L142.52,405.70Z" fill="#0000ee"/>
<path d="M158.34,410.20L161.64,415.60L155.04,415.60Z" fill="#0000ee"/>
<path d="M170.87,416.00L174.17,421.40L167.57,421.40Z" fill="#0000ee"/>
<path d="M183.40,424.20L186.70,429.60L180.10,429.60Z" fill="#0000ee"/>
<path d="M195.92,420.60L199.22,426.00L192.62,426.00Z" fill="#0000ee"/>
<path d="M208.45,436.20L211.75,441.60L205.15,441.60Z" fill="#0000ee"/>
<path d="M220.98,448.36V452.24M219.18,448.36H222.78M219.18,452.24H222.78" stroke="#0000ee" stroke-width="1" fill="none"/>
<path d="M220.98,447.30L224.28,452.70L217.68,452.70Z" fill="#0000ee"/>
<path d="M233.50,443.99V449.81M231.70,443.99H235.30M231.70,449.81H235.30" stroke="#0000ee" stroke-width="1" fill="none"/>
<path d="M233.50,443.90L236.80,449.30L230.20,449.30Z" fill="#0000ee"/>
<path d="M246.03,472.42V480.18M244.23,472.42H247.83M244.23,480.18H247.83" stroke="#0000ee" stroke-width="1" fill="none"/>
<path d="M246.03,473.30L249.33,478.70L242.73,478.70Z" fill="#0000ee"/>
<path d="M258.56,457.05V466.75M256.76,457.05H260.36M256.76,466.75H260.36" stroke="#0000ee" stroke-width="1" fill="none"/>
<path d="M258.56,458.90L261.86,464.30L255.26,464.30Z" fill="#0000ee"/>
<path d="M271.08,463.58V475.22M269.28,463.58H272.88M269.28,475.22H272.88" stroke="#0000ee" stroke-width="1" fill="none"/>
<path d="M271.08,466.40L274.38,471.80L267.78,471.80Z" fill="#0000ee"/>
<path d="M283.61,467.41V480.99M281.81,467.41H285.41M281.81,480.99H285.41" stroke="#0000ee" stroke-width="1" fill="none"/>
<path d="M283.61,471.20L286.91,476.60L280.31,476.60Z" fill="#0000ee"/>
<path d="M296.14,451.14V466.66M294.34,451.14H297.94M294.34,466.66H297.94" stroke="#0000ee" stroke-width="1" fill="none"/>
<path d="M296.14,455.90L299.44,461.30L292.84,461.30Z" fill="#0000ee"/>
<path d="M308.67,491.96V509.42M306.87,491.96H310.47M306.87,509.42H310.47" stroke="#0000ee" stroke-width="1" fill="none"/>
<path d="M308.67,497.69L311.97,503.09L305.37,503.09Z" fill="#0000ee"/>
<path d="M321.19,459.00V478.40M319.39,459.00H322.99M319.39,478.40H322.99" stroke="#0000ee" stroke-width="1" fill="none"/>
<path d="M321.19,465.70L324.49,471.10L317.89,471.10Z" fill="#0000ee"/>
<path d="M333.72,494.90V516.24M331.92,494.90H335.52M331.92,516.24H335.52" stroke="#0000ee" stroke-width="1" fill="none"/>
<path d="M333.72,502.57L337.02,507.97L330.42,507.97Z" fill="#0000ee"/>
<path d="M346.25,518.58V541.86M344.45,518.58H348.05M344.45,541.86H348.05" stroke="#0000ee" stroke-width="1" fill="none"/>
<path d="M346.25,527.22L349.55,532.62L342.95,532.62Z" fill="#0000ee"/>
<path d="M358.77,514.45V539.68M356.97,514.45H360.57M356.97,539.68H360.57" stroke="#0000ee" stroke-width="1" fill="none"/>
<path d="M358.77,524.06L362.07,529.46L355.47,529.46Z" fill="#0000ee"/>
</g>
<rect x="45.6" y="17.7" width="325.7" height="460.1" stroke="#000" stroke-width="1.5" fill="none"/>
<line x1="45.6" y1="317.4" x2="371.3" y2="317.4" stroke="#000" stroke-width="1.4"/>
<path d="M58.13,17.7v2.6M58.13,317.4v-2.6M58.13,317.4v2.0M58.13,477.8v-2.0M70.65,17.7v4.2M70.65,317.4v-4.2M70.65,317.4v2.6M70.65,477.8v-2.6M83.18,17.7v2.6M83.18,317.4v-2.6M83.18,317.4v2.0M83.18,477.8v-2.0M95.71,17.7v4.2M95.71,317.4v-4.2M95.71,317.4v2.6M95.71,477.8v-2.6M108.23,17.7v2.6M108.23,317.4v-2.6M108.23,317.4v2.0M108.23,477.8v-2.0M120.76,17.7v8.5M120.76,317.4v-8.5M120.76,317.4v4.6M120.76,477.8v-4.6M133.29,17.7v2.6M133.29,317.4v-2.6M133.29,317.4v2.0M133.29,477.8v-2.0M145.82,17.7v4.2M145.82,317.4v-4.2M145.82,317.4v2.6M145.82,477.8v-2.6M158.34,17.7v2.6M158.34,317.4v-2.6M158.34,317.4v2.0M158.34,477.8v-2.0M170.87,17.7v4.2M170.87,317.4v-4.2M170.87,317.4v2.6M170.87,477.8v-2.6M183.40,17.7v2.6M183.40,317.4v-2.6M183.40,317.4v2.0M183.40,477.8v-2.0M195.92,17.7v4.2M195.92,317.4v-4.2M195.92,317.4v2.6M195.92,477.8v-2.6M208.45,17.7v2.6M208.45,317.4v-2.6M208.45,317.4v2.0M208.45,477.8v-2.0M220.98,17.7v4.2M220.98,317.4v-4.2M220.98,317.4v2.6M220.98,477.8v-2.6M233.50,17.7v2.6M233.50,317.4v-2.6M233.50,317.4v2.0M233.50,477.8v-2.0M246.03,17.7v8.5M246.03,317.4v-8.5M246.03,317.4v4.6M246.03,477.8v-4.6M258.56,17.7v2.6M258.56,317.4v-2.6M258.56,317.4v2.0M258.56,477.8v-2.0M271.08,17.7v4.2M271.08,317.4v-4.2M271.08,317.4v2.6M271.08,477.8v-2.6M283.61,17.7v2.6M283.61,317.4v-2.6M283.61,317.4v2.0M283.61,477.8v-2.0M296.14,17.7v4.2M296.14,317.4v-4.2M296.14,317.4v2.6M296.14,477.8v-2.6M308.67,17.7v2.6M308.67,317.4v-2.6M308.67,317.4v2.0M308.67,477.8v-2.0M321.19,17.7v4.2M321.19,317.4v-4.2M321.19,317.4v2.6M321.19,477.8v-2.6M333.72,17.7v2.6M333.72,317.4v-2.6M333.72,317.4v2.0M333.72,477.8v-2.0M346.25,17.7v4.2M346.25,317.4v-4.2M346.25,317.4v2.6M346.25,477.8v-2.6M358.77,17.7v2.6M358.77,317.4v-2.6M358.77,317.4v2.0M358.77,477.8v-2.0M45.6,312.47h5.5M371.3,312.47h-5.5M45.6,300.06h5.5M371.3,300.06h-5.5M45.6,291.25h5.5M371.3,291.25h-5.5M45.6,284.42h5.5M371.3,284.42h-5.5M45.6,278.84h5.5M371.3,278.84h-5.5M45.6,274.13h5.5M371.3,274.13h-5.5M45.6,270.04h5.5M371.3,270.04h-5.5M45.6,266.43h5.5M371.3,266.43h-5.5M45.6,263.21h11M371.3,263.21h-11M45.6,242.00h5.5M371.3,242.00h-5.5M45.6,229.59h5.5M371.3,229.59h-5.5M45.6,220.78h5.5M371.3,220.78h-5.5M45.6,213.95h5.5M371.3,213.95h-5.5M45.6,208.37h5.5M371.3,208.37h-5.5M45.6,203.66h5.5M371.3,203.66h-5.5M45.6,199.57h5.5M371.3,199.57h-5.5M45.6,195.96h5.5M371.3,195.96h-5.5M45.6,192.74h11M371.3,192.74h-11M45.6,171.53h5.5M371.3,171.53h-5.5M45.6,159.12h5.5M371.3,159.12h-5.5M45.6,150.31h5.5M371.3,150.31h-5.5M45.6,143.48h5.5M371.3,143.48h-5.5M45.6,137.90h5.5M371.3,137.90h-5.5M45.6,133.19h5.5M371.3,133.19h-5.5M45.6,129.10h5.5M371.3,129.10h-5.5M45.6,125.49h5.5M371.3,125.49h-5.5M45.6,122.27h11M371.3,122.27h-11M45.6,101.06h5.5M371.3,101.06h-5.5M45.6,88.65h5.5M371.3,88.65h-5.5M45.6,79.84h5.5M371.3,79.84h-5.5M45.6,73.01h5.5M371.3,73.01h-5.5M45.6,67.43h5.5M371.3,67.43h-5.5M45.6,62.72h5.5M371.3,62.72h-5.5M45.6,58.63h5.5M371.3,58.63h-5.5M45.6,55.02h5.5M371.3,55.02h-5.5M45.6,51.80h11M371.3,51.80h-11M45.6,30.59h5.5M371.3,30.59h-5.5M45.6,18.18h5.5M371.3,18.18h-5.5M45.6,477.88h5.5M371.3,477.88h-5.5M45.6,458.31h7.5M371.3,458.31h-7.5M45.6,442.31h5.5M371.3,442.31h-5.5M45.6,428.79h5.5M371.3,428.79h-5.5M45.6,417.08h5.5M371.3,417.08h-5.5M45.6,406.74h5.5M371.3,406.74h-5.5M45.6,397.50h7.5M371.3,397.50h-7.5M45.6,389.14h5.5M371.3,389.14h-5.5M45.6,381.51h5.5M371.3,381.51h-5.5M45.6,374.48h5.5M371.3,374.48h-5.5M45.6,367.98h5.5M371.3,367.98h-5.5M45.6,361.93h5.5M371.3,361.93h-5.5M45.6,356.27h5.5M371.3,356.27h-5.5M45.6,350.95h5.5M371.3,350.95h-5.5M45.6,345.93h5.5M371.3,345.93h-5.5M45.6,341.19h5.5M371.3,341.19h-5.5M45.6,336.69h7.5M371.3,336.69h-7.5M45.6,332.41h5.5M371.3,332.41h-5.5M45.6,328.33h5.5M371.3,328.33h-5.5M45.6,324.43h5.5M371.3,324.43h-5.5M45.6,320.70h5.5M371.3,320.70h-5.5" stroke="#000" stroke-width="1" fill="none"/>
<text x="51.6" y="14" font-size="12.15" fill="#000">13000 GeV pp</text>
<text x="365.3" y="14" font-size="12" fill="#000" text-anchor="end">Z+Jet</text>
<text x="77" y="42.2" font-size="12.25" fill="#000">Transverse region, 80 &lt; p<tspan font-size="8.5" dx="-3.2" dy="-5">Z</tspan><tspan font-size="8.5" dx="-5.2" dy="12">T</tspan><tspan dy="-7" dx="-0.7"> &lt; 120 [GeV], inclusive</tspan></text>
<text x="40" y="56" font-size="11" text-anchor="end">10</text>
<text x="40" y="126.7" font-size="11" text-anchor="end">1</text>
<text x="33.7" y="198.3" font-size="11" text-anchor="end">10</text><text x="33.2" y="192.6" font-size="7.5">−1</text>
<text x="31.5" y="269.1" font-size="11" text-anchor="end">10</text><text x="31.5" y="263.8" font-size="7.5">−2</text>
<text x="38.6" y="341" font-size="11.5" text-anchor="end">2</text>
<text x="38.6" y="401.7" font-size="11.5" text-anchor="end">1</text>
<text x="38.6" y="462" font-size="11.5" text-anchor="end">0.5</text>
<text x="373.5" y="341" font-size="11.5">2</text>
<text x="373.5" y="401.7" font-size="11.5">1</text>
<text x="373.5" y="462" font-size="11.5">0.5</text>
<text x="120.7" y="489" font-size="11" text-anchor="middle">1</text>
<text x="246" y="489" font-size="11" text-anchor="middle">2</text>
<text x="371" y="489" font-size="11" text-anchor="middle">3</text>
<text x="289.2" y="501.6" font-size="12">Mean p<tspan font-size="9" dy="6.5">T</tspan><tspan dy="-6.5" dx="0.3">/dη dϕ</tspan></text>
<text transform="translate(15.2,166.4) rotate(-90)" font-size="12">1/N<tspan font-size="7.3" dy="4.4">ev</tspan><tspan dy="-4.4"> dN</tspan><tspan font-size="7.3" dy="4.4">ev</tspan><tspan dy="-4.4">/d mean p</tspan><tspan font-size="7.3" dy="5.4">T</tspan><tspan dy="-5.4" dx="0.5"> [GeV]</tspan><tspan font-size="7.3" dy="-4.5" dx="-1">−1</tspan></text>
<text transform="translate(17.6,425.7) rotate(-90)" font-size="8.9">Ratio to ATLAS</text>
<text transform="translate(379.8,127.3) rotate(-90)" font-size="9.5" fill="#777">Rivet 4.1.0, ≥ 3.8M events</text>
<text transform="translate(381.6,314.3) rotate(-90)" font-size="9.5" fill="#777">mcplots.cern.ch [arXiv:2401.10621]</text>
<text x="163" y="302.5" font-size="7.8" fill="#999">(ATLAS_2019_I1736531)</text>
<rect x="73.50" y="220.90" width="5.80" height="5.80" fill="#000"/>
<line x1="64.2" y1="237.0" x2="88.6" y2="237.0" stroke="#b04050" stroke-width="1"/><path d="M76.40,234.00L79.60,239.40L73.20,239.40Z" fill="none" stroke="#a00020" stroke-width="1.1"/>
<line x1="64.2" y1="250.0" x2="88.6" y2="250.0" stroke="#907080" stroke-width="1" stroke-dasharray="3.5,2,1,2"/><rect x="74.05" y="247.65" width="4.70" height="4.70" fill="none" stroke="#703050" stroke-width="1.1"/>
<line x1="64.2" y1="262.9" x2="88.6" y2="262.9" stroke="#f8a070" stroke-width="1" stroke-dasharray="3.5,2,1,2"/><rect x="74.08" y="260.58" width="4.64" height="4.64" fill="#ff7f30"/>
<line x1="64.2" y1="276.0" x2="88.6" y2="276.0" stroke="#5060f0" stroke-width="1"/><path d="M76.40,273.00L79.70,278.40L73.10,278.40Z" fill="#0000ee"/>
<text x="94.2" y="227.3" font-size="9.5">ATLAS</text>
<text x="94.2" y="240.5" font-size="9.5">Pythia 6.428 370</text>
<text x="94.2" y="253.5" font-size="9.5">Pythia 6.428 391</text>
<text x="94.2" y="266.4" font-size="9.5">Pythia 6.428 default</text>
<text x="94.2" y="279.5" font-size="9.5">Pythia 8.315 default</text>
</svg></body></html>
